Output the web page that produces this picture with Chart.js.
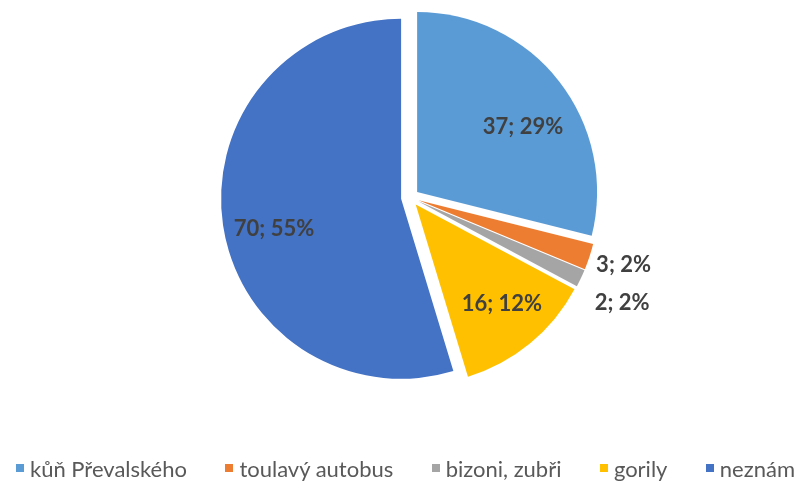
<!DOCTYPE html>
<html>
<head>
<meta charset="utf-8">
<script src="https://cdn.jsdelivr.net/npm/chart.js@4"></script>
<style>
  html, body { margin: 0; padding: 0; background: #ffffff; }
  #wrap { position: relative; width: 797px; height: 481px; overflow: hidden; }
  #chartBox { position: absolute; left: 0; top: 0; width: 797px; height: 481px; }
  #legend { position: absolute; left: 16px; width: 779px; top: 455px; height: 26px; display: flex; align-items: center;
            justify-content: space-between;
            font-family: Lato, "Open Sans", sans-serif; font-size: 22px; color: #595959; white-space: nowrap; }
  .item { display: flex; align-items: center; }
  .item i { display: inline-block; width: 8px; height: 8px; margin-right: 6px; }
</style>
</head>
<body>
<div id="wrap">
  <div id="chartBox"><canvas id="c"></canvas></div>
  <div id="legend"></div>
</div>
<script>
// ---- data ----
const categories = ["kůň Převalského", "toulavý autobus", "bizoni, zubři", "gorily", "neznám"];
const values = [37, 3, 2, 16, 70];
const percentLabels = ["29%", "2%", "2%", "12%", "55%"];
const colors = ["#5B9BD5", "#ED7D31", "#A5A5A5", "#FFC000", "#4472C4"];

// ---- style ----
const EXPLODE = 9;
const RADIUS = 180;
// label placement: fraction of radius from exploded vertex, angular shift in degrees
const LABEL_POS = [
  { f: 0.69, d: 6.5 },
  { f: 1.194, d: -0.8 },
  { f: 1.266, d: 1.1 },
  { f: 0.732, d: -1.5 },
  { f: 0.726, d: -5 }
];

const explodePlugin = {
  id: 'explode',
  beforeDatasetDraw(chart, args) {
    const ctx = chart.ctx;
    const meta = args.meta;
    meta.data.forEach((arc) => {
      const mid = (arc.startAngle + arc.endAngle) / 2;
      ctx.save();
      ctx.translate(Math.cos(mid) * EXPLODE, Math.sin(mid) * EXPLODE);
      arc.draw(ctx, chart.chartArea);
      ctx.restore();
    });
    return false;
  }
};

const labelPlugin = {
  id: 'sliceLabels',
  afterDatasetsDraw(chart) {
    const ctx = chart.ctx;
    const meta = chart.getDatasetMeta(0);
    ctx.save();
    ctx.font = 'bold 22px Lato, "Open Sans", sans-serif';
    ctx.fillStyle = '#404040';
    ctx.textAlign = 'center';
    ctx.textBaseline = 'middle';
    meta.data.forEach((arc, i) => {
      const mid = (arc.startAngle + arc.endAngle) / 2;
      const vx = arc.x + Math.cos(mid) * EXPLODE;
      const vy = arc.y + Math.sin(mid) * EXPLODE;
      const a = mid + LABEL_POS[i].d * Math.PI / 180;
      const r = arc.outerRadius * LABEL_POS[i].f;
      const text = values[i] + '; ' + percentLabels[i];
      ctx.fillText(text, vx + Math.cos(a) * r, vy + Math.sin(a) * r);
    });
    ctx.restore();
  }
};

new Chart(document.getElementById('c'), {
  type: 'pie',
  data: {
    labels: categories,
    datasets: [{
      data: values,
      backgroundColor: colors,
      borderWidth: 0,
      offset: 0
    }]
  },
  options: {
    responsive: true,
    maintainAspectRatio: false,
    animation: false,
    radius: RADIUS,
    layout: { padding: { left: 23, right: 0, top: 0, bottom: 86 } },
    plugins: {
      legend: { display: false },
      tooltip: { enabled: false }
    }
  },
  plugins: [explodePlugin, labelPlugin]
});

// HTML legend built from the same arrays
const leg = document.getElementById('legend');
categories.forEach((c, i) => {
  const it = document.createElement('span');
  it.className = 'item';
  const sw = document.createElement('i');
  sw.style.background = colors[i];
  it.appendChild(sw);
  it.appendChild(document.createTextNode(c));
  leg.appendChild(it);
});
</script>
</body>
</html>
